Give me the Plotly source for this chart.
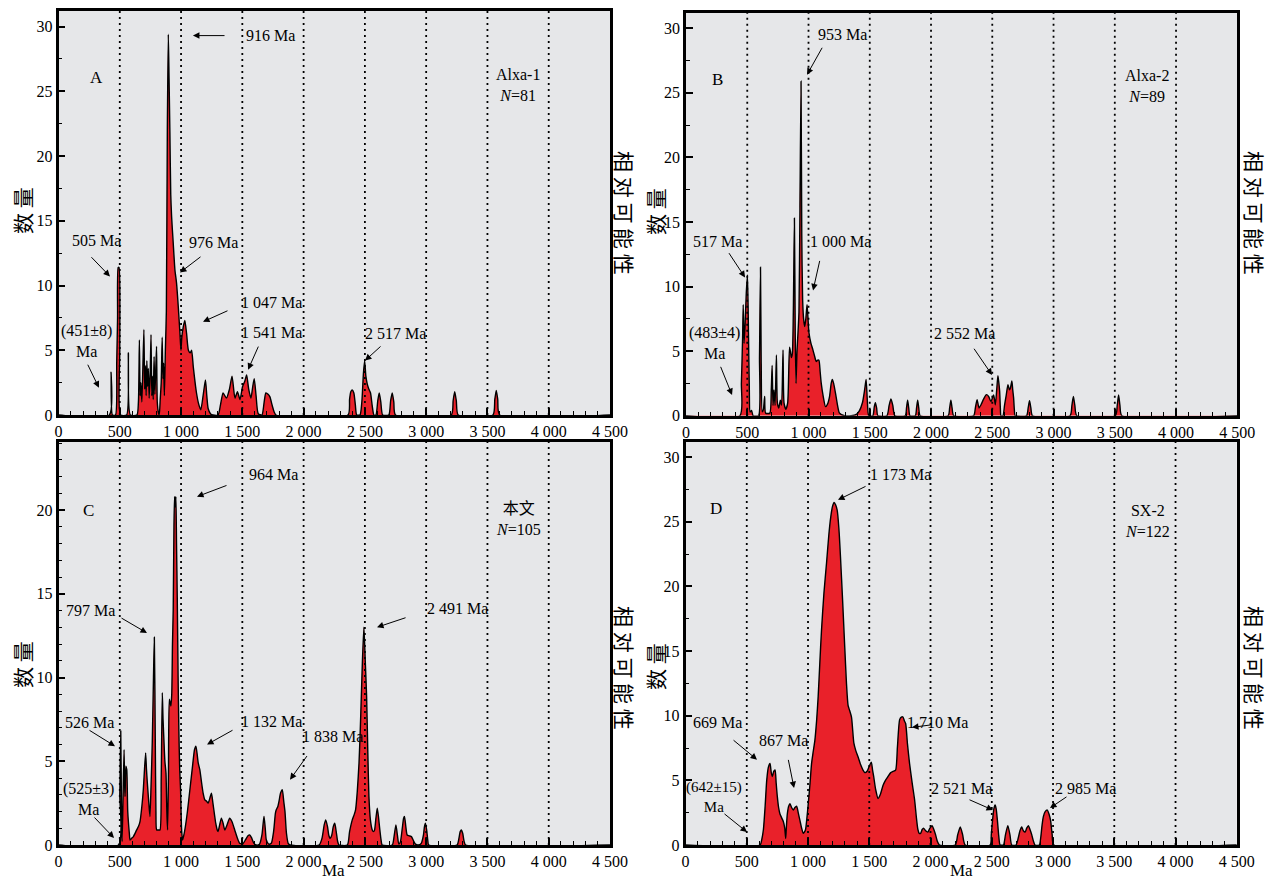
import plotly.graph_objects as go

# ---------------- data (age in Ma, relative count) ----------------
A_PTS = [(0,0),(415,0),(429,3.3),(440,0),(465,0),(475,4.0),(482,7.5),(487,11.4),(494,11.4),(500,5.0),(506,0),
         (556,0),(570,4.8),(586,0),
         (640,0),(652,1.0),(660,5.8),(666,1.5),(672,2.5),(680,1.0),(688,3.5),(697,6.6),(703,2.0),(709,3.8),
         (715,1.5),(721,4.2),(727,2.2),(733,3.6),(740,1.3),(748,3.2),(755,6.2),(761,1.5),(767,3.0),(773,1.2),
         (780,4.5),(786,1.6),(793,3.3),(800,5.3),(806,1.0),(815,0.2),(822,0),(830,1.2),(838,2.5),(846,6.0),
         (852,2.8),(858,4.0),(864,1.5),(872,5.0),(880,8.0),(888,22.0),(896,29.4),(902,26.0),(909,21.8),
         (916,17.0),(923,15.3),(936,13.3),(950,11.2),(963,10.2),(977,8.4),(991,6.3),(999,5.0),(1006,6.0),
         (1018,6.8),(1031,7.3),(1045,6.3),(1060,5.0),(1075,4.8),(1086,5.0),(1100,3.7),(1126,1.7),(1145,0.8),
         (1161,0.4),(1180,1.5),(1199,2.7),(1210,1.5),(1221,0.5),(1240,0.1),(1260,0),(1302,0),(1322,0.8),
         (1343,1.7),(1370,1.3),(1395,2.0),(1416,3.0),(1440,1.3),(1460,1.8),(1481,1.2),(1502,2.2),(1520,2.6),
         (1535,3.1),(1552,2.0),(1570,1.3),(1585,2.2),(1597,2.8),(1612,1.5),(1630,0.1),(1660,0),(1678,1.0),
         (1692,1.7),(1710,1.6),(1725,1.4),(1745,0.7),(1774,0),
         (2362,0),(2375,1.2),(2385,1.8),(2397,1.93),(2410,1.7),(2422,0.8),(2433,0),(2460,0),(2475,1.0),
         (2488,3.2),(2498,4.2),(2508,3.0),(2519,2.4),(2532,2.0),(2546,1.7),(2560,0.7),(2574,0),(2590,0),
         (2605,1.1),(2617,1.7),(2630,1.0),(2645,0),(2695,0),(2710,1.1),(2723,1.7),(2736,1.0),(2750,0),
         (3205,0),(3220,1.1),(3233,1.8),(3246,1.1),(3262,0),(3545,0),(3560,1.2),(3572,1.9),(3584,1.2),
         (3600,0),(4500,0)]

B_PTS = [(0,0),(440,0),(452,2.5),(462,6.0),(467,8.6),(474,5.6),(482,7.0),(492,9.5),(502,10.9),(510,6.4),
         (517,2.0),(523,0.3),(535,0.4),(548,0),(592,0),(600,4.5),(608,11.5),(614,4.0),(622,0.3),(632,0.5),
         (642,1.5),(650,0.2),(684,0.2),(696,2.0),(703,3.9),(710,0.8),(718,2.0),(727,0.8),(738,4.7),(746,1.0),
         (758,0.6),(770,1.2),(780,0.8),(792,5.1),(800,1.0),(815,0.5),(830,1.0),(845,5.3),(852,5.0),(860,4.5),
         (868,4.8),(876,8.0),(885,15.3),(892,6.0),(898,2.5),(906,5.0),(914,6.4),(922,8.0),(930,16.0),
         (939,25.9),(945,14.0),(952,9.0),(960,7.5),(969,6.9),(978,7.5),(988,8.6),(996,7.5),(1004,6.4),
         (1020,5.6),(1036,5.1),(1050,4.6),(1063,4.2),(1075,4.3),(1085,4.3),(1095,3.4),(1104,2.5),(1120,1.5),
         (1139,0.7),(1155,0.9),(1172,1.5),(1185,2.5),(1194,2.8),(1205,2.5),(1221,1.7),(1237,0.8),(1253,0.2),
         (1294,0),(1348,0),(1390,0.1),(1416,0.4),(1440,1.0),(1458,2.0),(1470,2.8),(1480,1.2),(1492,0),
         (1525,0),(1537,0.7),(1546,1.0),(1556,0.6),(1566,0),(1640,0),(1658,0.8),(1673,1.3),(1688,0.8),
         (1705,0),(1790,0),(1800,0.6),(1809,1.2),(1818,0.6),(1828,0),(1872,0),(1882,0.6),(1891,1.2),
         (1900,0.6),(1912,0),(2140,0),(2152,0.6),(2162,1.2),(2172,0.6),(2185,0),(2348,0),(2362,0.6),
         (2376,1.24),(2392,0.6),(2408,0.85),(2430,1.3),(2452,1.63),(2470,1.5),(2489,1.1),(2511,1.6),
         (2525,0.85),(2536,2.0),(2546,3.1),(2553,2.6),(2560,1.9),(2566,0.6),(2571,0),(2587,0),(2600,0.8),
         (2614,1.6),(2628,2.4),(2640,2.0),(2647,2.1),(2660,2.7),(2667,2.0),(2674,1.4),(2680,0.5),(2687,0),
         (2780,0),(2793,0.6),(2804,1.16),(2815,0.6),(2828,0),(3135,0),(3150,0.8),(3162,1.5),(3174,0.8),
         (3190,0),(3505,0),(3520,0.8),(3531,1.6),(3542,0.8),(3558,0),(4500,0)]

C_PTS = [(0,0),(489,0),(500,3.0),(508,6.8),(514,2.0),(519,0.2),(527,3.0),(535,5.7),(540,3.5),(543,2.9),
         (550,4.7),(557,4.5),(565,2.0),(578,0.7),(584,0.3),(597,0.4),(611,0.5),(638,0.9),(652,1.1),(665,1.4),
         (680,2.3),(692,3.3),(700,4.3),(711,5.5),(718,4.5),(725,3.7),(735,2.7),(746,1.7),(755,3.5),(765,6.1),
         (775,10.0),(782,12.4),(790,6.0),(795,2.0),(801,0.9),(815,0.9),(828,0.9),(838,4.0),(847,9.1),
         (853,7.5),(860,6.3),(868,5.0),(877,4.3),(884,2.0),(890,0.9),(897,4.0),(904,8.7),(911,8.5),(917,8.3),
         (924,9.0),(930,12.0),(936,14.0),(942,19.0),(947,20.8),(953,20.2),(958,20.8),(963,18.0),(969,14.8),
         (976,10.0),(982,6.9),(989,4.5),(996,3.3),(1004,1.0),(1012,0.3),(1020,0.5),(1033,1.0),(1052,2.0),
         (1072,3.3),(1095,4.8),(1110,5.7),(1121,5.9),(1130,5.5),(1140,4.9),(1153,4.5),(1166,3.8),(1180,3.1),
         (1194,2.7),(1210,2.6),(1221,2.5),(1235,2.8),(1248,3.1),(1260,2.5),(1275,1.7),(1283,1.3),(1295,0.9),
         (1302,0.8),(1315,1.2),(1329,1.6),(1343,1.3),(1357,0.9),(1375,1.2),(1397,1.6),(1415,1.4),(1438,0.9),
         (1460,0.4),(1479,0.1),(1506,0.1),(1525,0.3),(1546,0.55),(1560,0.6),(1574,0.45),(1595,0.1),(1614,0),
         (1640,0.05),(1660,0.6),(1670,1.3),(1677,1.7),(1687,1.0),(1696,0.3),(1715,0.05),(1736,0.1),
         (1755,0.8),(1770,1.9),(1777,2.1),(1790,2.3),(1799,2.6),(1812,3.1),(1826,3.3),(1838,2.6),(1848,2.0),
         (1860,0.7),(1874,0.1),(1890,0),
         (2126,0),(2150,0.4),(2168,1.2),(2180,1.5),(2195,1.1),(2205,0.6),(2216,0.4),(2230,0.6),(2242,1.1),
         (2254,1.3),(2266,0.8),(2278,0.2),(2289,0),(2357,0),(2375,0.8),(2397,1.5),(2412,1.8),(2424,2.1),
         (2438,3.2),(2452,4.9),(2462,6.8),(2471,8.9),(2480,11.0),(2492,13.0),(2503,11.0),(2514,8.9),
         (2524,5.5),(2533,2.9),(2545,1.5),(2560,0.9),(2570,0.8),(2579,0.9),(2590,1.6),(2601,2.2),(2612,1.6),
         (2622,0.9),(2632,0.3),(2641,0),(2723,0),(2738,0.5),(2753,1.2),(2765,0.6),(2777,0.05),(2790,0.2),
         (2805,1.0),(2816,1.6),(2823,1.7),(2834,1.1),(2845,0.6),(2862,0.55),(2880,0.5),(2900,0.2),
         (2913,0.05),(2935,0),(2960,0.1),(2978,0.6),(2986,1.1),(2994,1.3),(3004,0.9),(3013,0.3),(3021,0),
         (3252,0),(3265,0.3),(3278,0.8),(3287,0.9),(3298,0.7),(3310,0.2),(3322,0),(4500,0)]

D_PTS = [(0,0),(609,0),(622,0.4),(636,1.2),(650,3.0),(663,5.0),(676,6.0),(690,6.3),(700,5.6),(709,5.3),
         (720,5.7),(731,5.8),(740,4.8),(750,3.7),(760,2.9),(771,2.4),(785,2.1),(799,1.8),(810,1.3),(818,0.5),
         (824,1.5),(831,2.4),(842,3.0),(853,3.2),(866,2.9),(880,2.7),(893,2.9),(907,3.0),(920,2.5),(934,1.9),
         (948,1.3),(961,0.9),(970,1.0),(980,1.2),(990,2.0),(1002,3.2),(1015,4.6),(1029,6.3),(1042,7.2),
         (1056,8.1),(1070,9.6),(1083,11.5),(1096,14.0),(1110,16.6),(1130,19.5),(1151,21.8),(1170,24.0),
         (1186,25.4),(1200,26.2),(1213,26.5),(1226,26.3),(1238,25.9),(1252,24.5),(1265,22.3),(1282,19.0),
         (1300,15.3),(1314,12.5),(1327,10.8),(1340,10.4),(1355,9.9),(1374,7.9),(1390,7.3),(1409,6.8),
         (1430,6.2),(1449,5.8),(1465,5.6),(1482,5.7),(1500,6.1),(1517,6.4),(1527,5.8),(1536,5.3),(1552,4.3),
         (1572,3.6),(1590,3.9),(1612,4.6),(1632,5.0),(1653,5.3),(1675,5.6),(1694,5.7),(1715,5.8),(1730,7.6),
         (1748,9.7),(1762,9.9),(1775,9.9),(1787,9.6),(1797,9.4),(1812,7.8),(1829,6.3),(1850,4.8),(1870,3.5),
         (1885,2.1),(1897,1.2),(1908,0.9),(1919,0.9),(1932,1.2),(1943,1.3),(1960,1.1),(1978,1.0),(1995,1.3),
         (2013,1.5),(2027,1.2),(2041,0.8),(2055,0.3),(2073,0),(2202,0),(2222,0.8),(2243,1.4),(2262,0.8),
         (2283,0),(2487,0),(2496,0.8),(2506,1.9),(2517,2.8),(2527,3.1),(2536,2.8),(2546,1.9),(2557,0.7),
         (2568,0),(2595,0),(2612,0.8),(2631,1.5),(2648,0.8),(2663,0),(2698,0),(2715,0.5),(2730,1.1),
         (2744,1.4),(2758,1.1),(2772,1.0),(2785,1.3),(2799,1.5),(2812,1.2),(2826,0.8),(2840,0.3),(2853,0),
         (2888,0),(2900,0.6),(2910,1.5),(2921,2.2),(2937,2.6),(2953,2.7),(2967,2.4),(2980,1.9),(2993,0.8),
         (3007,0),(4500,0)]

x_tick_vals = [0, 500, 1000, 1500, 2000, 2500, 3000, 3500, 4000, 4500]
x_tick_text = ["0", "500", "1 000", "1 500", "2 000", "2 500", "3 000", "3 500", "4 000", "4 500"]
grid_vals = [500, 1000, 1500, 2000, 2500, 3000, 3500, 4000]

panel_letters = ["A", "B", "C", "D"]
sample_names = ["Alxa-1", "Alxa-2", "本文", "SX-2"]
sample_n = ["81", "89", "105", "122"]

# ---------------- styling / layout ----------------
SERIF = "Liberation Serif, Times New Roman, Noto Sans CJK SC, serif"
CJK = "Noto Sans CJK SC, sans-serif"
RED = "#E9212A"
BG = "#E6E7E9"

# page body has an 8px default margin: the figure is sized/placed to compensate
OFF = 8
W, H = 1273 - OFF, 879 - OFF

def dx(px):
    return (px - OFF) / W

def dy(py):
    return 1 - (py - OFF) / H

panels = [
    dict(pts=A_PTS, ymax=31.2, ydt=5, ymin=2.5, xd=[dx(58.5), dx(610)], yd=[dy(415), dy(11)]),
    dict(pts=B_PTS, ymax=31.2, ydt=5, ymin=2.5, xd=[dx(686), dx(1237.3)], yd=[dy(415.7), dy(12.7)]),
    dict(pts=C_PTS, ymax=24.08, ydt=5, ymin=1, xd=[dx(58.5), dx(610)], yd=[dy(845), dy(441.7)]),
    dict(pts=D_PTS, ymax=31.2, ydt=5, ymin=2.5, xd=[dx(685.5), dx(1236.8)], yd=[dy(845), dy(441.7)]),
]

fig = go.Figure()
layout = dict(width=W, height=H, margin=dict(l=0, r=0, t=0, b=0, pad=0, autoexpand=False),
              paper_bgcolor="white", plot_bgcolor=BG, showlegend=False)
shapes = []
annotations = []

for i, p in enumerate(panels):
    n = "" if i == 0 else str(i + 1)
    xr, yr = "x" + n, "y" + n
    ages = [a for a, _ in p["pts"]]
    counts = [c for _, c in p["pts"]]
    fig.add_trace(go.Scatter(x=ages, y=counts, xaxis=xr, yaxis=yr, mode="lines",
                             line=dict(color="black", width=1.4, shape="spline", smoothing=0.6),
                             fill="tozeroy", fillcolor=RED, hoverinfo="skip"))
    layout["xaxis" + n] = dict(domain=p["xd"], anchor=yr, range=[0, 4500], automargin=False,
                               tickmode="array", tickvals=x_tick_vals, ticktext=x_tick_text,
                               ticks="inside", ticklen=7, tickwidth=1.5, tickcolor="black",
                               minor=dict(ticks="inside", ticklen=4, tickwidth=1.2, tickcolor="black",
                                          tick0=0, dtick=100),
                               showline=True, linecolor="black", linewidth=2.5, mirror=True,
                               showgrid=False, zeroline=False,
                               tickfont=dict(family=SERIF, size=16, color="black"))
    layout["yaxis" + n] = dict(domain=p["yd"], anchor=xr, range=[0, p["ymax"]], automargin=False,
                               tickmode="linear", tick0=0, dtick=p["ydt"],
                               ticks="inside", ticklen=7, tickwidth=1.5, tickcolor="black",
                               minor=dict(ticks="inside", ticklen=4, tickwidth=1.2, tickcolor="black",
                                          tick0=0, dtick=p["ymin"]),
                               showline=True, linecolor="black", linewidth=2.5, mirror=True,
                               showgrid=False, zeroline=False,
                               tickfont=dict(family=SERIF, size=16, color="black"))
    for g in grid_vals:
        shapes.append(dict(type="line", xref=xr, yref=yr + " domain", x0=g, x1=g, y0=0, y1=1,
                           layer="above", line=dict(color="black", width=1.8, dash="2px,4px")))

def txt(t, x, y, i, size=16, family=SERIF):
    n = "" if i == 0 else str(i + 1)
    annotations.append(dict(text=t, x=x, y=y, xref="x" + n, yref="y" + n, showarrow=False,
                            xanchor="center", yanchor="middle",
                            font=dict(family=family, size=size, color="black")))

def arr(tx, ty, hx, hy, i):
    n = "" if i == 0 else str(i + 1)
    annotations.append(dict(text="", x=hx, y=hy, ax=tx, ay=ty, xref="x" + n, yref="y" + n,
                            axref="x" + n, ayref="y" + n, showarrow=True, arrowhead=2,
                            arrowsize=1.3, arrowwidth=1, arrowcolor="black", standoff=0))

# panel letters and sample labels
letter_pos = [(306, 26.1), (261, 26.0), (241, 20.0), (249, 26.0)]
name_pos = [(3750, 25.5), (3764, 25.5), (3751, 19.45), (3768, 25.1)]
for i in range(4):
    txt(panel_letters[i], letter_pos[i][0], letter_pos[i][1], i, size=17)
    txt(sample_names[i] + "<br><i>N</i>=" + sample_n[i], name_pos[i][0], name_pos[i][1], i, size=16)

# Panel A annotations
txt("916 Ma", 1726, 29.3, 0); arr(1367, 29.3, 1097, 29.3, 0)
txt("505 Ma", 306, 13.5, 0); arr(257, 12.3, 420, 10.7, 0)
txt("976 Ma", 1262, 13.3, 0); arr(1171, 12.3, 991, 11.0, 0)
txt("1 047 Ma", 1735, 8.65, 0); arr(1391, 8.1, 1179, 7.2, 0)
txt("1 541 Ma", 1735, 6.4, 0); arr(1636, 5.4, 1547, 3.5, 0)
txt("(451±8)<br>Ma", 230, 5.7, 0); arr(233, 4.0, 330, 2.1, 0)
txt("2 517 Ma", 2749, 6.3, 0); arr(2640, 5.4, 2501, 4.2, 0)

# Panel B annotations
txt("953 Ma", 1274, 29.5, 1); arr(1118, 28.6, 988, 26.4, 1)
txt("517 Ma", 253, 13.5, 1); arr(343, 12.7, 482, 10.7, 1)
txt("1 000 Ma", 1257, 13.5, 1); arr(1094, 12.1, 1037, 9.7, 1)
txt("(483±4)<br>Ma", 235, 5.6, 1); arr(278, 3.9, 376, 1.6, 1)
txt("2 552 Ma", 2270, 6.4, 1); arr(2343, 5.3, 2498, 3.15, 1)

# Panel C annotations
txt("964 Ma", 1758, 22.1, 2); arr(1383, 21.5, 1130, 20.8, 2)
txt("797 Ma", 265, 14.0, 2); arr(502, 13.6, 722, 12.66, 2)
txt("526 Ma", 249, 7.34, 2); arr(241, 6.9, 461, 5.9, 2)
txt("1 132 Ma", 1734, 7.4, 2); arr(1432, 6.9, 1212, 6.0, 2)
txt("1 838 Ma", 2233, 6.5, 2); arr(2036, 5.4, 1889, 3.9, 2)
txt("(525±3)<br>Ma", 245, 2.75, 2); arr(282, 1.73, 453, 0.42, 2)
txt("2 491 Ma", 3252, 14.1, 2); arr(2844, 13.6, 2599, 13.0, 2)

# Panel D annotations
txt("1 173 Ma", 1751, 28.7, 3); arr(1482, 27.8, 1245, 26.7, 3)
txt("669 Ma", 265, 9.5, 3); arr(380, 8.2, 584, 6.6, 3)
txt("867 Ma", 796, 8.1, 3); arr(837, 6.7, 886, 4.4, 3)
txt("1 710 Ma", 2053, 9.5, 3); arr(2012, 9.3, 1849, 9.1, 3)
txt("(642±15)<br>Ma", 235, 3.75, 3, size=15); arr(306, 2.5, 502, 1.0, 3)
txt("2 521 Ma", 2250, 4.4, 3); arr(2306, 3.55, 2510, 2.7, 3)
txt("2 985 Ma", 3261, 4.4, 3); arr(3122, 3.8, 2975, 2.86, 3)

# axis titles (paper coordinates, given in page pixels)
def ptxt(t, px, py, angle, size, family):
    annotations.append(dict(text=t, x=dx(px), y=dy(py), xref="paper", yref="paper", showarrow=False,
                            xanchor="center", yanchor="middle", textangle=angle,
                            font=dict(family=family, size=size, color="black")))

for (px, py) in [(22, 211), (655, 212), (22, 665), (655, 667)]:
    ptxt("数 量", px, py, -90, 21, CJK)
for (px, py) in [(625, 213), (1255, 213), (625, 668), (1255, 668)]:
    ptxt("相 对 可 能 性", px, py, 90, 21, CJK)
ptxt("Ma", 333, 870, 0, 17, SERIF)
ptxt("Ma", 961, 870, 0, 17, SERIF)

layout["shapes"] = shapes
layout["annotations"] = annotations
fig.update_layout(**layout)
fig.write_html("out.html")
